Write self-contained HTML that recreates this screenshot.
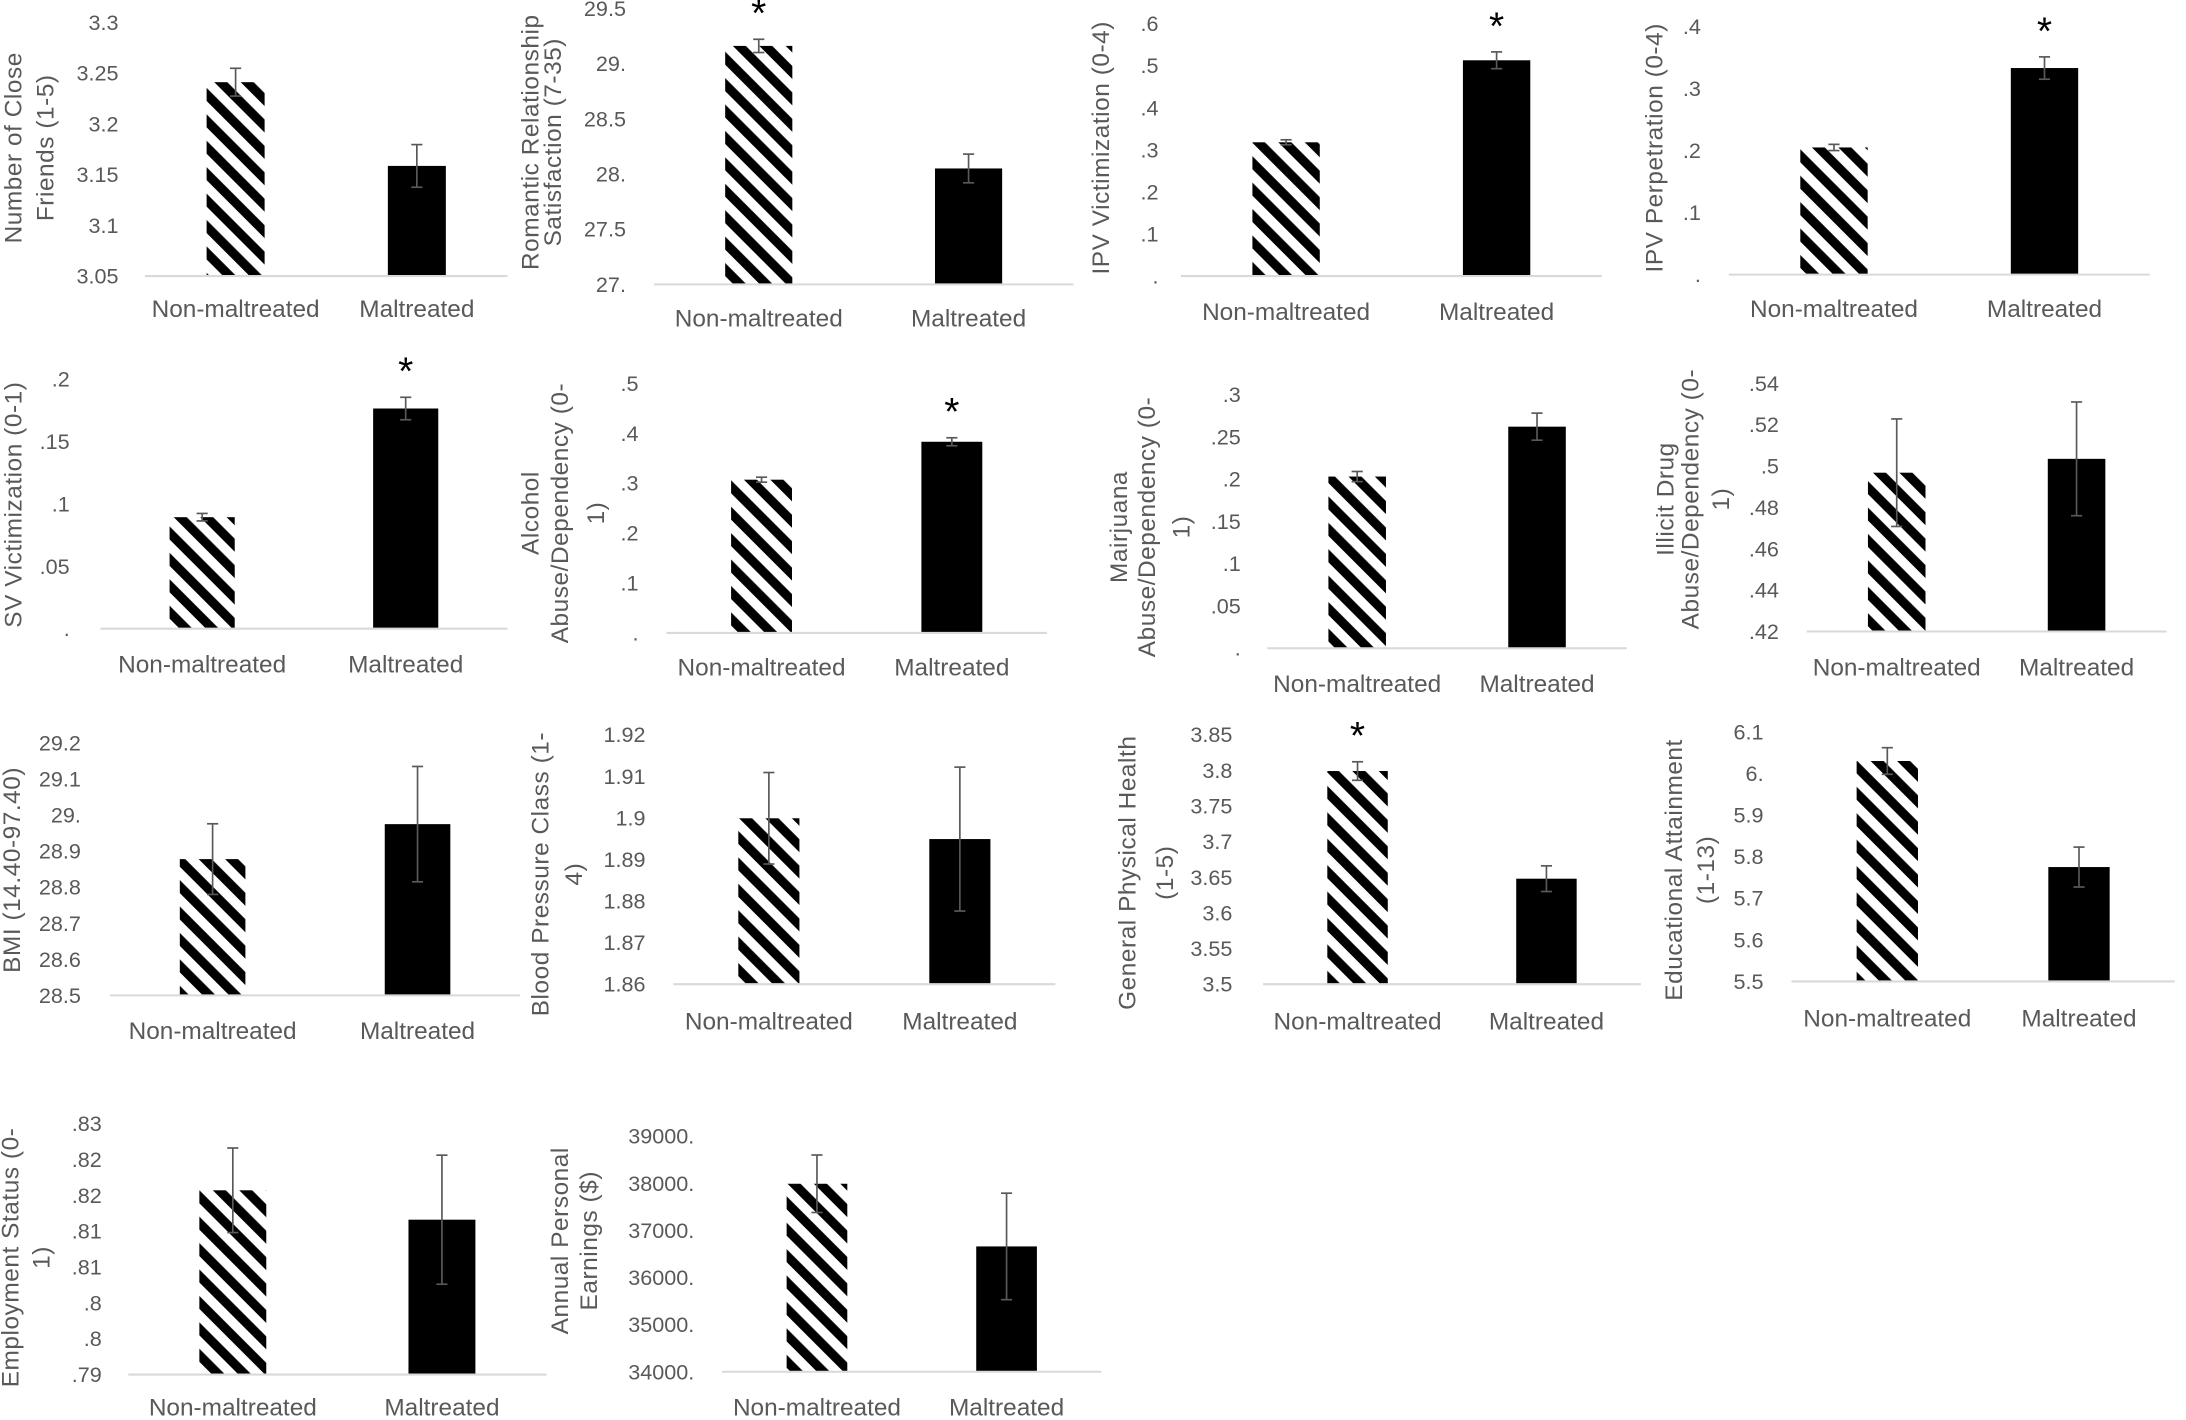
<!DOCTYPE html>
<html><head><meta charset="utf-8"><style>
html,body{margin:0;padding:0;background:#fff;}
svg{display:block;}
text{font-family:"Liberation Sans",sans-serif;fill:#595959;}
</style></head><body>
<svg id="fig" width="2186" height="1420" viewBox="0 0 1568 1018.6" preserveAspectRatio="none" xmlns="http://www.w3.org/2000/svg">
<defs>
<pattern id="hatch" patternUnits="userSpaceOnUse" width="13.4" height="13.4" patternTransform="rotate(-45)">
<rect x="0" y="0" width="6.6" height="13.4" fill="#000"/>
</pattern>
</defs>
</svg>
<script>
// ---- data ----
const categories = ["Non-maltreated", "Maltreated"];
const panelTitles = [
  ["Number of Close","Friends (1-5)"],
  ["Romantic Relationship","Satisfaction (7-35)"],
  ["IPV Victimization (0-4)"],
  ["IPV Perpetration (0-4)"],
  ["SV Victimization (0-1)"],
  ["Alcohol","Abuse/Dependency (0-","1)"],
  ["Mairjuana","Abuse/Dependency (0-","1)"],
  ["Illicit Drug","Abuse/Dependency (0-","1)"],
  ["BMI (14.40-97.40)"],
  ["Blood Pressure Class (1-","4)"],
  ["General Physical Health","(1-5)"],
  ["Educational Attainment","(1-13)"],
  ["Employment Status (0-","1)"],
  ["Annual Personal","Earnings ($)"]
];
const yMins = [3.05, 27, 0, 0, 0, 0, 0, 0.42, 28.5, 1.86, 3.5, 5.5, 0.79, 34000];
const yMaxs = [3.3, 29.5, 0.6, 0.4, 0.2, 0.5, 0.3, 0.54, 29.2, 1.92, 3.85, 6.1, 0.825, 39000];
const tickLabels = [
  ["3.05","3.1","3.15","3.2","3.25","3.3"],
  ["27.","27.5","28.","28.5","29.","29.5"],
  [".",".1",".2",".3",".4",".5",".6"],
  [".",".1",".2",".3",".4"],
  [".",".05",".1",".15",".2"],
  [".",".1",".2",".3",".4",".5"],
  [".",".05",".1",".15",".2",".25",".3"],
  [".42",".44",".46",".48",".5",".52",".54"],
  ["28.5","28.6","28.7","28.8","28.9","29.","29.1","29.2"],
  ["1.86","1.87","1.88","1.89","1.9","1.91","1.92"],
  ["3.5","3.55","3.6","3.65","3.7","3.75","3.8","3.85"],
  ["5.5","5.6","5.7","5.8","5.9","6.","6.1"],
  [".79",".8",".8",".81",".81",".82",".82",".83"],
  ["34000.","35000.","36000.","37000.","38000.","39000."]
];
const nonValues = [3.241, 29.16, 0.318, 0.205, 0.0894, 0.307, 0.203, 0.4968, 28.878, 1.8999, 3.799, 6.030, 0.8157, 37990];
const malValues = [3.1585, 28.05, 0.513, 0.333, 0.1765, 0.383, 0.262, 0.5035, 28.975, 1.8949, 3.648, 5.775, 0.8116, 36660];
const nonErrors = [0.0137, 0.06, 0.006, 0.005, 0.003, 0.005, 0.006, 0.026, 0.098, 0.011, 0.013, 0.032, 0.0059, 610];
const malErrors = [0.021, 0.13, 0.02, 0.018, 0.009, 0.008, 0.016, 0.0275, 0.16, 0.0173, 0.018, 0.048, 0.009, 1130];
const nonSignificant = [false, true, false, false, false, false, false, false, false, false, true, false, false, false];
const malSignificant = [false, false, true, true, true, true, false, false, false, false, false, false, false, false];

// ---- layout (pixel geometry, not data) ----
// [axisX0, axisX1, baseY, topY, tickRightX, labelY, titleCenterY]
const layout = [
  [104,364,198,16,85,222,106],
  [469,770,204,6,449,229,102],
  [847,1149,198,17,831,224,106],
  [1240,1542,197,19,1220,222,106],
  [72,364,451,272,50,477,362],
  [478,751,454,275,458,479,368],
  [909,1167,465,283,890,491,378],
  [1296,1554,453,275,1276,479,358],
  [79,373,714,533,58,740,624],
  [483,757,706,527,463,733,627],
  [906,1177,706,527,884,733,626],
  [1285,1560,704,525,1265,731,624],
  [92,392,986,806,73,1010,902],
  [518,790,984,815,498,1010,890]
];
const titleXs = [[10,33],[381,397],[790],[1187],[10],[381,402,428],[803,823,848],[1195,1213,1235],[9],[388,412],[809,836],[1201,1224],[8,30],[402,423]];

const NS = "http://www.w3.org/2000/svg";
const svg = document.getElementById("fig");
function mk(tag, attrs, parent){
  const e = document.createElementNS(NS, tag);
  for (const k in attrs) e.setAttribute(k, attrs[k]);
  (parent||svg).appendChild(e);
  return e;
}

for (let p = 0; p < layout.length; p++) {
  const [x0, x1, baseY, topY, tickX, labelY, titleY] = layout[p];
  const yMin = yMins[p], yMax = yMaxs[p];
  const yScale = v => baseY - (v - yMin) / (yMax - yMin) * (baseY - topY);
  const w = x1 - x0;
  const xCenter = i => x0 + w * (i === 0 ? 0.25 : 0.75);
  const bw = w * 0.16;

  const g = mk("g", {});
  
  

  const ticks = tickLabels[p];
  for (let t = 0; t < ticks.length; t++) {
    const v = yMin + (yMax - yMin) * t / (ticks.length - 1);
    const tx = mk("text", {x: tickX, y: yScale(v), "text-anchor": "end", "dominant-baseline": "central", "font-size": 15.5}, g);
    tx.textContent = ticks[t];
    
    
  }

  const vals = [nonValues[p], malValues[p]];
  const errs = [nonErrors[p], malErrors[p]];
  const sig = [nonSignificant[p], malSignificant[p]];
  for (let i = 0; i < 2; i++) {
    const cx = xCenter(i);
    const yTop = yScale(vals[i]);
    const r = mk("rect", {x: cx - bw/2, y: yTop, width: bw, height: baseY - yTop, fill: i === 0 ? "url(#hatch)" : "#000"}, g);
    
    

    const eHi = yScale(vals[i] + errs[i]), eLo = yScale(vals[i] - errs[i]);
    const eg = mk("g", {stroke: "#595959", "stroke-width": 1.2, fill: "none"}, g);
    
    
    mk("line", {x1: cx, x2: cx, y1: eHi, y2: eLo}, eg);
    mk("line", {x1: cx - 4, x2: cx + 4, y1: eHi, y2: eHi}, eg);
    mk("line", {x1: cx - 4, x2: cx + 4, y1: eLo, y2: eLo}, eg);

    if (sig[i]) {
      const s = mk("text", {x: cx, y: eHi - 9, "text-anchor": "middle", "font-size": 28, style: "fill:#000"}, g);
      s.textContent = "*";
      
      
    }

    const lb = mk("text", {x: cx, y: labelY, "text-anchor": "middle", "dominant-baseline": "central", "font-size": 17.5}, g);
    lb.textContent = categories[i];
    
    
  }

  const ax = mk("line", {x1: x0, x2: x1, y1: baseY, y2: baseY, stroke: "#d9d9d9", "stroke-width": 1.5}, g);
  
  

  const lines = panelTitles[p];
  for (let l = 0; l < lines.length; l++) {
    const tx = titleXs[p][l];
    const tt = mk("text", {x: tx, y: titleY, transform: `rotate(-90 ${tx} ${titleY})`, "text-anchor": "middle", "dominant-baseline": "central", "font-size": 17.5, "letter-spacing": 0.4}, g);
    tt.textContent = lines[l];
    
    
  }
}
</script>
</body></html>
